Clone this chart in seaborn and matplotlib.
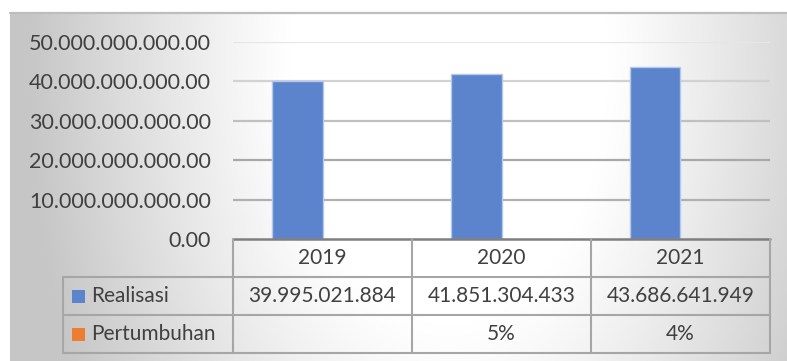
import numpy as np
import pandas as pd
import matplotlib
matplotlib.use("Agg")
import matplotlib.pyplot as plt
from matplotlib.lines import Line2D
from matplotlib.patches import Rectangle
from matplotlib.ticker import FuncFormatter
import seaborn as sns

# ---- data ----
years = ["2019", "2020", "2021"]
realisasi = [39995021884, 41851304433, 43686641949]
pertumbuhan = [np.nan, 0.05, 0.04]
series_names = ["Realisasi", "Pertumbuhan"]
series_colors = ["#5B84CC", "#ED7D31"]
y_ticks = [0, 10e9, 20e9, 30e9, 40e9, 50e9]

sns.set_theme(style="white")
FONT = ["Lato", "DejaVu Sans"]
plt.rcParams["font.family"] = FONT
TXT = "#404040"

W, H = 787, 361
fig = plt.figure(figsize=(W / 100, H / 100), dpi=100)
fig.patch.set_facecolor("white")

def fx(x):
    return x / W

def fy(y):
    return 1 - y / H

# ---- background gradient panel ----
bg = fig.add_axes([fx(10), fy(361), fx(787) - fx(10), fy(12) - fy(361)])
xs = np.linspace(10, 787, 400)
ys = np.linspace(12, 361, 200)
X, Y = np.meshgrid(xs, ys)
t = np.sqrt(((X - 450) / 420) ** 2 + ((Y - 60) / 700) ** 2)
f = np.clip((t - 0.38) / 0.62, 0, 1) ** 1.1
val = 1 - (1 - 0.78) * f
img = np.dstack([val, val, val])
bg.imshow(img, extent=[10, 787, 361, 12], aspect="auto", interpolation="bilinear")
bg.set_xlim(10, 787)
bg.set_ylim(361, 12)
bg.axis("off")
fig.add_artist(Line2D([fx(10), fx(787)], [fy(12.5), fy(12.5)], color="#BDBDBD", lw=1.6))

# ---- bar axes ----
ax = fig.add_axes([fx(233), fy(239), fx(770) - fx(233), fy(42) - fy(239)])
ax.set_facecolor("none")
df = pd.DataFrame({
    "Tahun": years * 2,
    "Seri": [series_names[0]] * 3 + [series_names[1]] * 3,
    "Nilai": list(realisasi) + list(pertumbuhan),
})
sns.barplot(data=df, x="Tahun", y="Nilai", hue="Seri", order=years,
            hue_order=series_names, palette=series_colors, width=0.56,
            saturation=1, edgecolor="#B4C8EC", linewidth=1.0, ax=ax,
            legend=False, zorder=3)
ax.set_ylim(0, 50e9)
ax.set_xlim(-0.5, 2.5)
ax.set_yticks(y_ticks)
ax.yaxis.set_major_formatter(FuncFormatter(lambda v, p: f"{v:,.2f}".replace(",", ".")))
ax.tick_params(axis="y", length=0, pad=16, labelsize=15.5, labelcolor=TXT)
ax.set_xticks([])
ax.set_xlabel("")
ax.set_ylabel("")
for s in ax.spines.values():
    s.set_visible(False)
grid_colors = ["#8C8C8C", "#B0B0B0", "#A8A8A8", "#C0C0C0", "#D2D2D2", "#E6E6E6"]
for v, c in zip(y_ticks[1:], grid_colors[1:]):
    ax.axhline(v, color=c, lw=1.6, zorder=1)

# ---- data table ----
LC = "#A6A6A6"
cols = [233, 412, 591, 770]
rows = [239, 277, 315, 353]
def hline(x0, x1, y, c=LC, lw=1.5):
    fig.add_artist(Line2D([fx(x0), fx(x1)], [fy(y), fy(y)], color=c, lw=lw, zorder=5))
def vline(x, y0, y1, c=LC, lw=1.5):
    fig.add_artist(Line2D([fx(x), fx(x)], [fy(y0), fy(y1)], color=c, lw=lw, zorder=5))

hline(233, 770, 239, c="#7F7F7F", lw=1.8)
hline(63, 770, 277)
hline(63, 770, 315)
hline(63, 770, 353)
for x in cols:
    vline(x, 239, 353)
vline(63, 277, 353)

fs = 15
for i, yr in enumerate(years):
    cx = (cols[i] + cols[i + 1]) / 2
    fig.text(fx(cx), fy((rows[0] + rows[1]) / 2), yr, ha="center", va="center",
             fontsize=fs, color=TXT)
    fig.text(fx(cx), fy((rows[1] + rows[2]) / 2), f"{realisasi[i]:,}".replace(",", "."),
             ha="center", va="center", fontsize=fs, color=TXT)
    p = pertumbuhan[i]
    ptxt = "" if np.isnan(p) else f"{p:.0%}"
    fig.text(fx(cx), fy((rows[2] + rows[3]) / 2), ptxt, ha="center", va="center",
             fontsize=fs, color=TXT)

for j, (name, col) in enumerate(zip(series_names, series_colors)):
    yc = (rows[j + 1] + rows[j + 2]) / 2
    fig.add_artist(Rectangle((fx(72), fy(yc + 6.5)), fx(13), fy(0) - fy(13),
                             facecolor=col, edgecolor="none", zorder=6))
    fig.text(fx(91), fy(yc), name, ha="left", va="center", fontsize=fs, color=TXT)

fig.savefig("out.png", dpi=100)
